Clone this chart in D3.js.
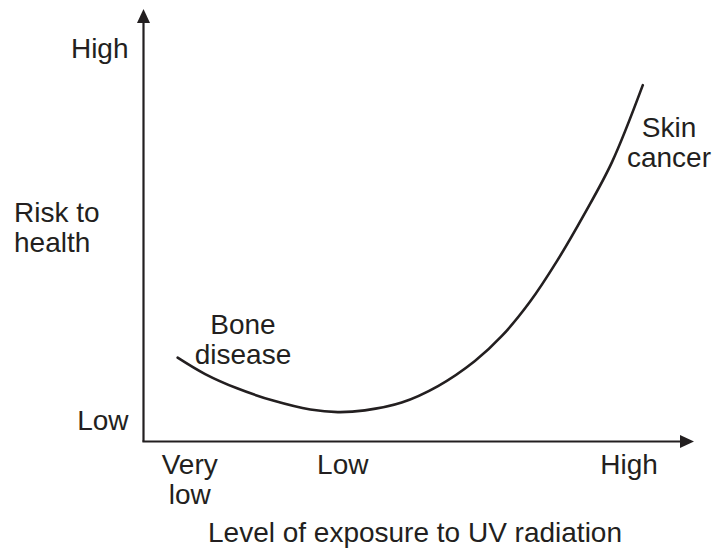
<!DOCTYPE html>
<html>
<head>
<meta charset="utf-8">
<script src="https://cdn.jsdelivr.net/npm/d3@7"></script>
<style>
  body { margin: 0; background: #fff; }
  text { font-family: "Liberation Sans", Arial, Helvetica, sans-serif; fill: #231f20; }
</style>
</head>
<body>
<script>
var width = 715, height = 552;

// curve (exposure 0-100, risk 0-100)
var exposure = [6.2, 11.2, 17, 23.7, 30.3, 35.3, 40.2, 46.9, 53.5, 60.2, 65.1, 70.2, 75.1, 80, 85.1, 90.7];
var risk     = [19.4, 15.6, 12.3, 9.4, 7.4, 6.8, 7.2, 9, 12.8, 18.6, 24.4, 32.3, 41.7, 52.4, 64.6, 82.4];

// axis labels
var xTicks = [{pos: 8.4, lines: ["Very", "low"]}, {pos: 36.2, lines: ["Low"]}, {pos: 88.2, lines: ["High"]}];
var yTicks = [{pos: 91, label: "High"}, {pos: 5, label: "Low"}];

var ink = "#231f20";
var fontSize = 28, lineGap = 30;

var svg = d3.select("body")
    .append("svg")
    .attr("width", width)
    .attr("height", height);

var x = d3.scaleLinear().domain([0, 100]).range([143.5, 694]);
var y = d3.scaleLinear().domain([0, 100]).range([441.5, 9]);

var x0 = x.range()[0], x1 = x.range()[1];
var y0 = y.range()[0], y1 = y.range()[1];

// axes with arrow heads
var g = svg.append("g");
g.append("line")
    .attr("x1", x0).attr("y1", y0)
    .attr("x2", x0).attr("y2", y1 + 8)
    .attr("stroke", ink).attr("stroke-width", 2.2);
g.append("line")
    .attr("x1", x0 - 1.1).attr("y1", y0)
    .attr("x2", x1 - 8).attr("y2", y0)
    .attr("stroke", ink).attr("stroke-width", 2.2);
g.append("path")
    .attr("d", "M" + x0 + "," + y1 + "L" + (x0 - 6.5) + "," + (y1 + 14) + "L" + (x0 + 6.5) + "," + (y1 + 14) + "Z")
    .attr("fill", ink);
g.append("path")
    .attr("d", "M" + x1 + "," + y0 + "L" + (x1 - 14) + "," + (y0 - 6.5) + "L" + (x1 - 14) + "," + (y0 + 6.5) + "Z")
    .attr("fill", ink);

// y labels
svg.selectAll(".ylab")
    .data(yTicks)
    .enter()
    .append("text")
    .attr("class", "ylab")
    .attr("x", x0 - 15)
    .attr("y", function(d) { return y(d.pos) + 10; })
    .attr("text-anchor", "end")
    .attr("font-size", fontSize)
    .text(function(d) { return d.label; });

// x labels
var xl = svg.selectAll(".xlab")
    .data(xTicks)
    .enter()
    .append("text")
    .attr("class", "xlab")
    .attr("text-anchor", "middle")
    .attr("font-size", fontSize)
    .attr("transform", function(d) { return "translate(" + x(d.pos) + "," + (y0 + 32) + ")"; });
xl.selectAll("tspan")
    .data(function(d) { return d.lines; })
    .enter()
    .append("tspan")
    .attr("x", 0)
    .attr("y", function(d, i) { return i * lineGap; })
    .text(function(d) { return d; });

// titles and annotations
function block(lines, cx, by, anchor) {
    var t = svg.append("text")
        .attr("font-size", fontSize)
        .attr("text-anchor", anchor);
    lines.forEach(function(s, i) {
        t.append("tspan").attr("x", cx).attr("y", by + i * lineGap).text(s);
    });
}
block(["Risk to", "health"], 14, 222, "start");
block(["Level of exposure to UV radiation"], 415, 542, "middle");
block(["Bone", "disease"], 243, 334, "middle");
block(["Skin", "cancer"], 669, 137, "middle");

// the curve
var pts = exposure.map(function(e, i) { return [e, risk[i]]; });
var line = d3.line()
    .x(function(d) { return x(d[0]); })
    .y(function(d) { return y(d[1]); })
    .curve(d3.curveCatmullRom.alpha(0.5));

svg.append("path")
    .datum(pts)
    .attr("d", line)
    .attr("fill", "none")
    .attr("stroke", ink)
    .attr("stroke-width", 2.6)
    .attr("stroke-linecap", "round");
</script>
</body>
</html>
